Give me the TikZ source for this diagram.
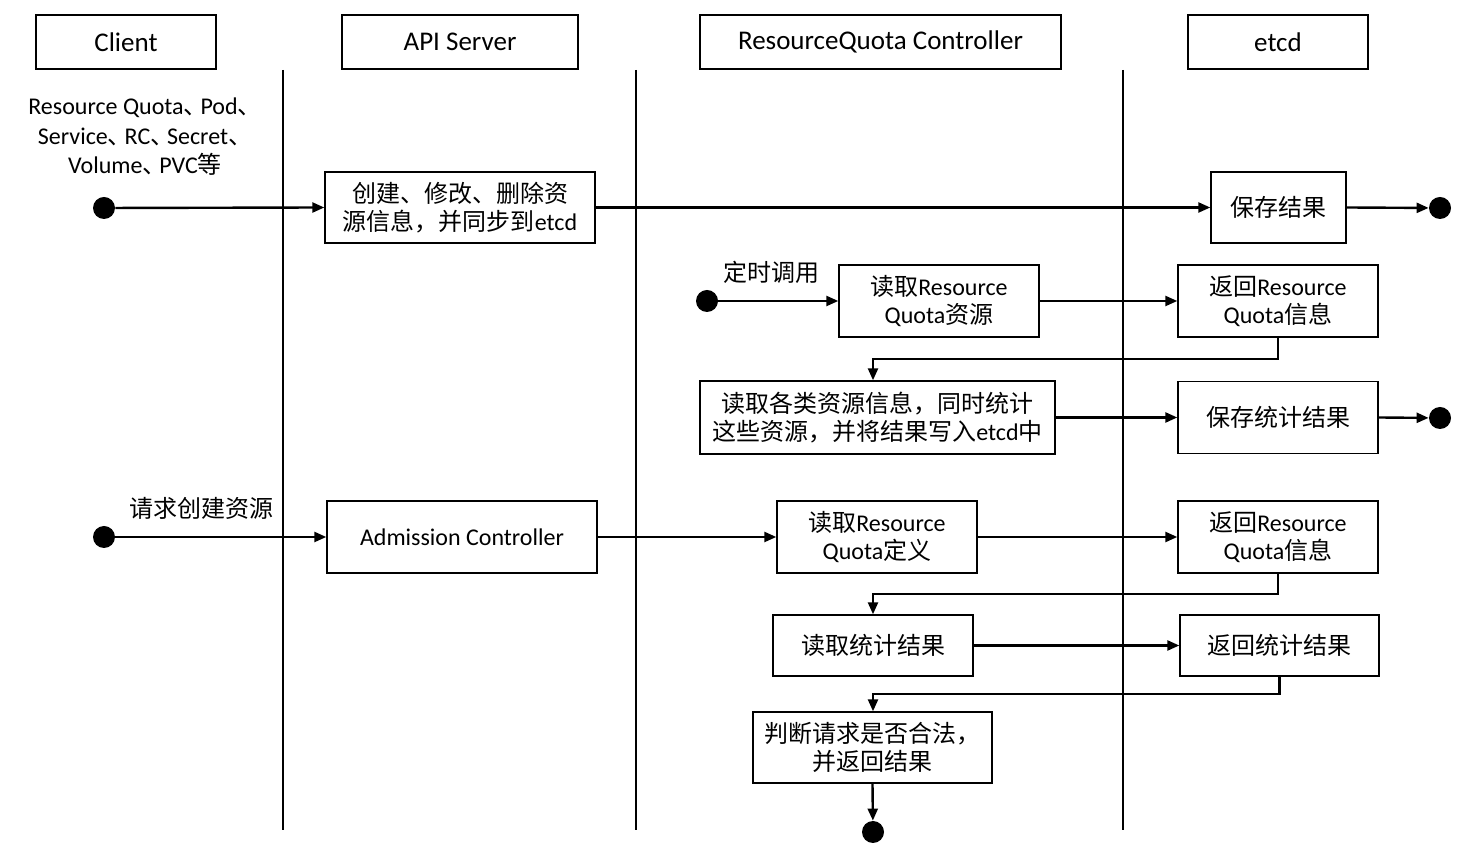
\documentclass[tikz,border=0pt]{standalone}
\usepackage{fontspec}
\setmainfont{Carlito}
\newfontfamily\cjk{Noto Sans CJK SC}
\newcommand\zh[1]{{\cjk #1}}
\newcommand\dun{\zh{、}\hspace{-0.3em}}
\usetikzlibrary{arrows.meta}
\begin{document}
\begin{tikzpicture}[x=0.5pt,y=-0.5pt,
  box/.style={draw, line width=0.7pt, inner sep=0pt, align=center, font=\fontsize{12}{14}\selectfont},
  hdr/.style={box, minimum height=27pt, font=\fontsize{13.5}{16}\selectfont},
  dot/.style={circle, fill=black, minimum size=11pt, inner sep=0pt},
  arr/.style={line width=1.2pt, -{Triangle[length=6pt,width=5pt]}},
  lane/.style={line width=1pt},
  lbl/.style={inner sep=0pt, align=center, font=\fontsize{12}{14.75}\selectfont}]
\useasboundingbox (0,0) rectangle (1468,854);
% headers
\node[hdr, minimum width=90pt] (client) at (126,42) {Client};
\node[hdr, minimum width=118pt] (api) at (460,42) {API Server};
\node[hdr, minimum width=180.5pt] (rqc) at (880.5,42) {ResourceQuota Controller};
\node[hdr, minimum width=90pt] (etcd) at (1278,42) {etcd};
% lanes
\draw[lane] (283,70) -- (283,830);
\draw[lane] (636,70) -- (636,830);
\draw[lane] (1123,70) -- (1123,830);
% labels
\node[lbl] (clbl) at (145,137) {Resource Quota\dun Pod\zh{、}\\Service\dun RC\dun Secret\zh{、}\\Volume\dun PVC\zh{等}};
\node[lbl] (tlbl) at (771,272) {\zh{定时调用}};
\node[lbl] (qlbl) at (201,508) {\zh{请求创建资源}};
% boxes
\node[box, minimum width=135pt, minimum height=35.5pt] (b1) at (460,207.5) {\zh{创建、修改、删除资}\\\zh{源信息，并同步到}etcd};
\node[box, minimum width=67.5pt, minimum height=35.5pt] (e1) at (1278.5,207.5) {\zh{保存结果}};
\node[box, minimum width=100pt, minimum height=36pt] (r1) at (939,301) {\zh{读取}Resource\\Quota\zh{资源}};
\node[box, minimum width=100pt, minimum height=36pt] (e2) at (1278,301) {\zh{返回}Resource\\Quota\zh{信息}};
\node[box, minimum width=177.5pt, minimum height=36.5pt] (r2) at (877.5,417.5) {\zh{读取各类资源信息，同时统计}\\\zh{这些资源，并将结果写入}etcd\zh{中}};
\node[box, minimum width=100pt, minimum height=36pt] (e3) at (1278,417.5) {\zh{保存统计结果}};
\node[box, minimum width=135pt, minimum height=36pt] (a1) at (462,537) {Admission Controller};
\node[box, minimum width=100pt, minimum height=36pt] (r3) at (877,537) {\zh{读取}Resource\\Quota\zh{定义}};
\node[box, minimum width=100pt, minimum height=36pt] (e4) at (1278,537) {\zh{返回}Resource\\Quota\zh{信息}};
\node[box, minimum width=100pt, minimum height=30.5pt] (r4) at (873,645.5) {\zh{读取统计结果}};
\node[box, minimum width=99.5pt, minimum height=30.5pt] (e5) at (1279.5,645.5) {\zh{返回统计结果}};
\node[box, minimum width=119.5pt, minimum height=35.5pt] (r5) at (872.5,747.5) {\zh{判断请求是否合法，}\\\zh{并返回结果}};
% dots
\node[dot] (d1) at (104,208) {};
\node[dot] (d2) at (1440,208) {};
\node[dot] (d3) at (707,301) {};
\node[dot] (d4) at (1440,418) {};
\node[dot] (d5) at (104,537) {};
\node[dot] (d6) at (873,832) {};
% junctions
\coordinate (j1) at (873,359);
\coordinate (j2) at (873,594);
\coordinate (j3) at (873,694);
% connectors
\draw[arr] (d1) -- (b1.west);
\draw[arr] (b1.east) -- (e1.west);
\draw[arr] (e1.east) -- (d2);
\draw[arr] (d3) -- (r1.west);
\draw[arr] (r1.east) -- (e2.west);
\draw[arr] (e2.south) |- (j1) -- (j1 |- r2.north);
\draw[arr] (r2.east) -- (e3.west);
\draw[arr] (e3.east) -- (d4);
\draw[arr] (d5) -- (a1.west);
\draw[arr] (a1.east) -- (r3.west);
\draw[arr] (r3.east) -- (e4.west);
\draw[arr] (e4.south) |- (j2) -- (j2 |- r4.north);
\draw[arr] (r4.east) -- (e5.west);
\draw[arr] (e5.south) |- (j3) -- (j3 |- r5.north);
\draw[arr] (r5.south) -- (d6);
\end{tikzpicture}
\end{document}
